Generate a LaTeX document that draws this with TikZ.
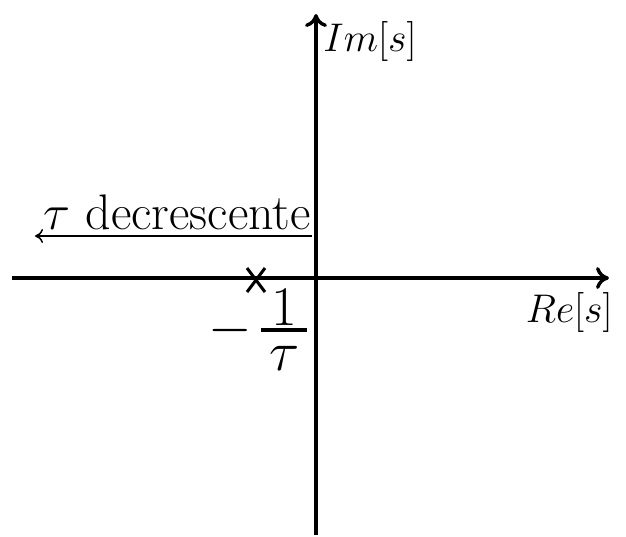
\RequirePackage{fix-cm}
\documentclass[tikz,border=0pt]{standalone}
\usepackage{amsmath, amssymb}
\usepackage{tikz}
\usetikzlibrary{arrows.meta, positioning, calc, shapes.misc}

% fraction with a thick bar, set close to the numerator
\newcommand{\polefrac}[2]{\vcenter{\offinterlineskip\halign{\hfil\kern4pt##\kern4pt\hfil\cr
    $#1$\cr\noalign{\kern1.5pt\hrule height 2pt\kern7pt}$#2$\cr}}}

\begin{document}
\begin{tikzpicture}[x=0.5pt, y=0.5pt, >={To[length=6.5pt, width=11pt, line width=1.7pt]},
            axis/.style={line width=1.7pt, ->},
            lbl/.style={font=\fontsize{20}{24}\selectfont, inner sep=0pt},
            big/.style={font=\fontsize{25}{30}\selectfont, inner sep=0pt},
            pole/.style={draw, cross out, line width=1.5pt, minimum width=7.5pt, minimum height=10.5pt, inner sep=0pt}]

            \useasboundingbox (-316,-258) rectangle (310,278);

            \coordinate (re_a) at (-304,0);
            \coordinate (re_b) at (293,0);
            \coordinate (im_a) at (0,-257);
            \coordinate (im_b) at (0,264);

            \draw[axis] (re_a) -- (re_b);
            \draw[axis] (im_a) -- (im_b);

            \node[lbl, anchor=west] (im) at (7,236) {$Im[s]$};
            \node[lbl, anchor=east] (re) at (297,-34) {$Re[s]$};

            \node[pole] (p) at (-60,-2) {};
            \node[font=\fontsize{28}{34}\selectfont, inner sep=0pt] (pval) at (-58,-52) {$-\,\polefrac{1}{\tau}$};

            \node[big, anchor=south east] (dec) at (-5,48) {$\tau$ decrescente};
            \coordinate (dec_a) at (-4,42);
            \coordinate (dec_b) at (-281,42);
            \draw[-{To[length=4pt, width=7pt]}, line width=0.75pt] (dec_a) -- (dec_b);
        \end{tikzpicture}
\end{document}
